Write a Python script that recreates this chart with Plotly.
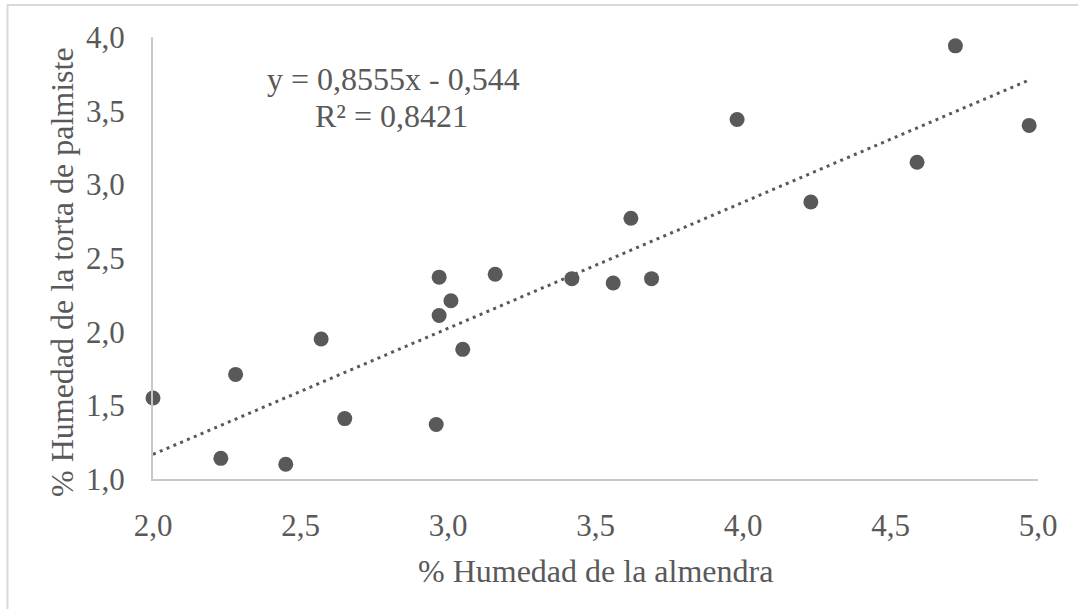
import plotly.graph_objects as go

# Data
humedad_almendra = [2.00, 2.23, 2.28, 2.45, 2.57, 2.65, 2.96, 2.97, 2.97, 3.01, 3.05,
                    3.16, 3.42, 3.56, 3.62, 3.69, 3.98, 4.23, 4.59, 4.72, 4.97]
humedad_torta = [1.55, 1.14, 1.71, 1.10, 1.95, 1.41, 1.37, 2.11, 2.37, 2.21, 1.88,
                 2.39, 2.36, 2.33, 2.77, 2.36, 3.44, 2.88, 3.15, 3.94, 3.40]

trend_slope = 0.8555
trend_intercept = -0.544
equation_text = "y = 0,8555x - 0,544"
r2_text = "R² = 0,8421"

x_title = "% Humedad de la almendra"
y_title = "% Humedad de la torta de palmiste"

x_ticks = [2.0, 2.5, 3.0, 3.5, 4.0, 4.5, 5.0]
y_ticks = [1.0, 1.5, 2.0, 2.5, 3.0, 3.5, 4.0]

trend_x = [min(humedad_almendra), max(humedad_almendra)]
trend_y = [trend_slope * v + trend_intercept for v in trend_x]

FONT = "Liberation Serif"
GREY = "#595959"

fig = go.Figure()
fig.add_trace(go.Scatter(
    x=trend_x, y=trend_y, mode="lines",
    line=dict(color=GREY, width=3, dash="3px,4.4px"),
    hoverinfo="skip", showlegend=False, cliponaxis=False,
))
fig.add_trace(go.Scatter(
    x=humedad_almendra, y=humedad_torta, mode="markers",
    marker=dict(size=15, color=GREY, line=dict(width=0)),
    showlegend=False, cliponaxis=False,
))

W, H = 1078, 609
L, R, T, B = 153, 40, 37, 130
pw, ph = W - L - R, H - T - B

def px(xp):
    return (xp - L) / pw

def py(yp):
    return (H - B - yp) / ph

fig.update_layout(
    width=W, height=H,
    margin=dict(l=L, r=R, t=T, b=B, pad=0),
    paper_bgcolor="white", plot_bgcolor="white",
    separators=",.",
    font=dict(family=FONT, color=GREY, size=31),
    xaxis=dict(
        range=[2, 5], tickvals=x_ticks, tickformat=".1f",
        showgrid=False, zeroline=False, showline=True,
        linecolor="#c8c8c8", linewidth=2, ticks="",
        tickfont=dict(family=FONT, size=31, color=GREY),
        ticklabelstandoff=18,
    ),
    yaxis=dict(
        range=[1, 4], tickvals=y_ticks, tickformat=".1f",
        showgrid=False, zeroline=False, showline=True,
        linecolor="#c8c8c8", linewidth=2, ticks="",
        tickfont=dict(family=FONT, size=31, color=GREY),
        ticklabelstandoff=20,
    ),
    shapes=[dict(
        type="rect", xref="paper", yref="paper",
        x0=px(7.5), x1=px(1090), y0=py(5), y1=py(620),
        line=dict(color="#d9d9d9", width=2), fillcolor="rgba(0,0,0,0)",
        layer="below",
    )],
    annotations=[
        dict(text=x_title, xref="paper", yref="paper", x=px(595.5), y=py(571),
             xanchor="center", yanchor="middle", showarrow=False,
             font=dict(family=FONT, size=32, color=GREY)),
        dict(text=y_title, xref="paper", yref="paper", x=px(62), y=py(272),
             xanchor="center", yanchor="middle", showarrow=False, textangle=-90,
             font=dict(family=FONT, size=32, color=GREY)),
        dict(text=equation_text, xref="paper", yref="paper", x=px(393), y=py(79),
             xanchor="center", yanchor="middle", showarrow=False,
             font=dict(family=FONT, size=32, color=GREY)),
        dict(text=r2_text, xref="paper", yref="paper", x=px(391.6), y=py(116),
             xanchor="center", yanchor="middle", showarrow=False,
             font=dict(family=FONT, size=32, color=GREY)),
    ],
)

fig.write_html("out.html")
